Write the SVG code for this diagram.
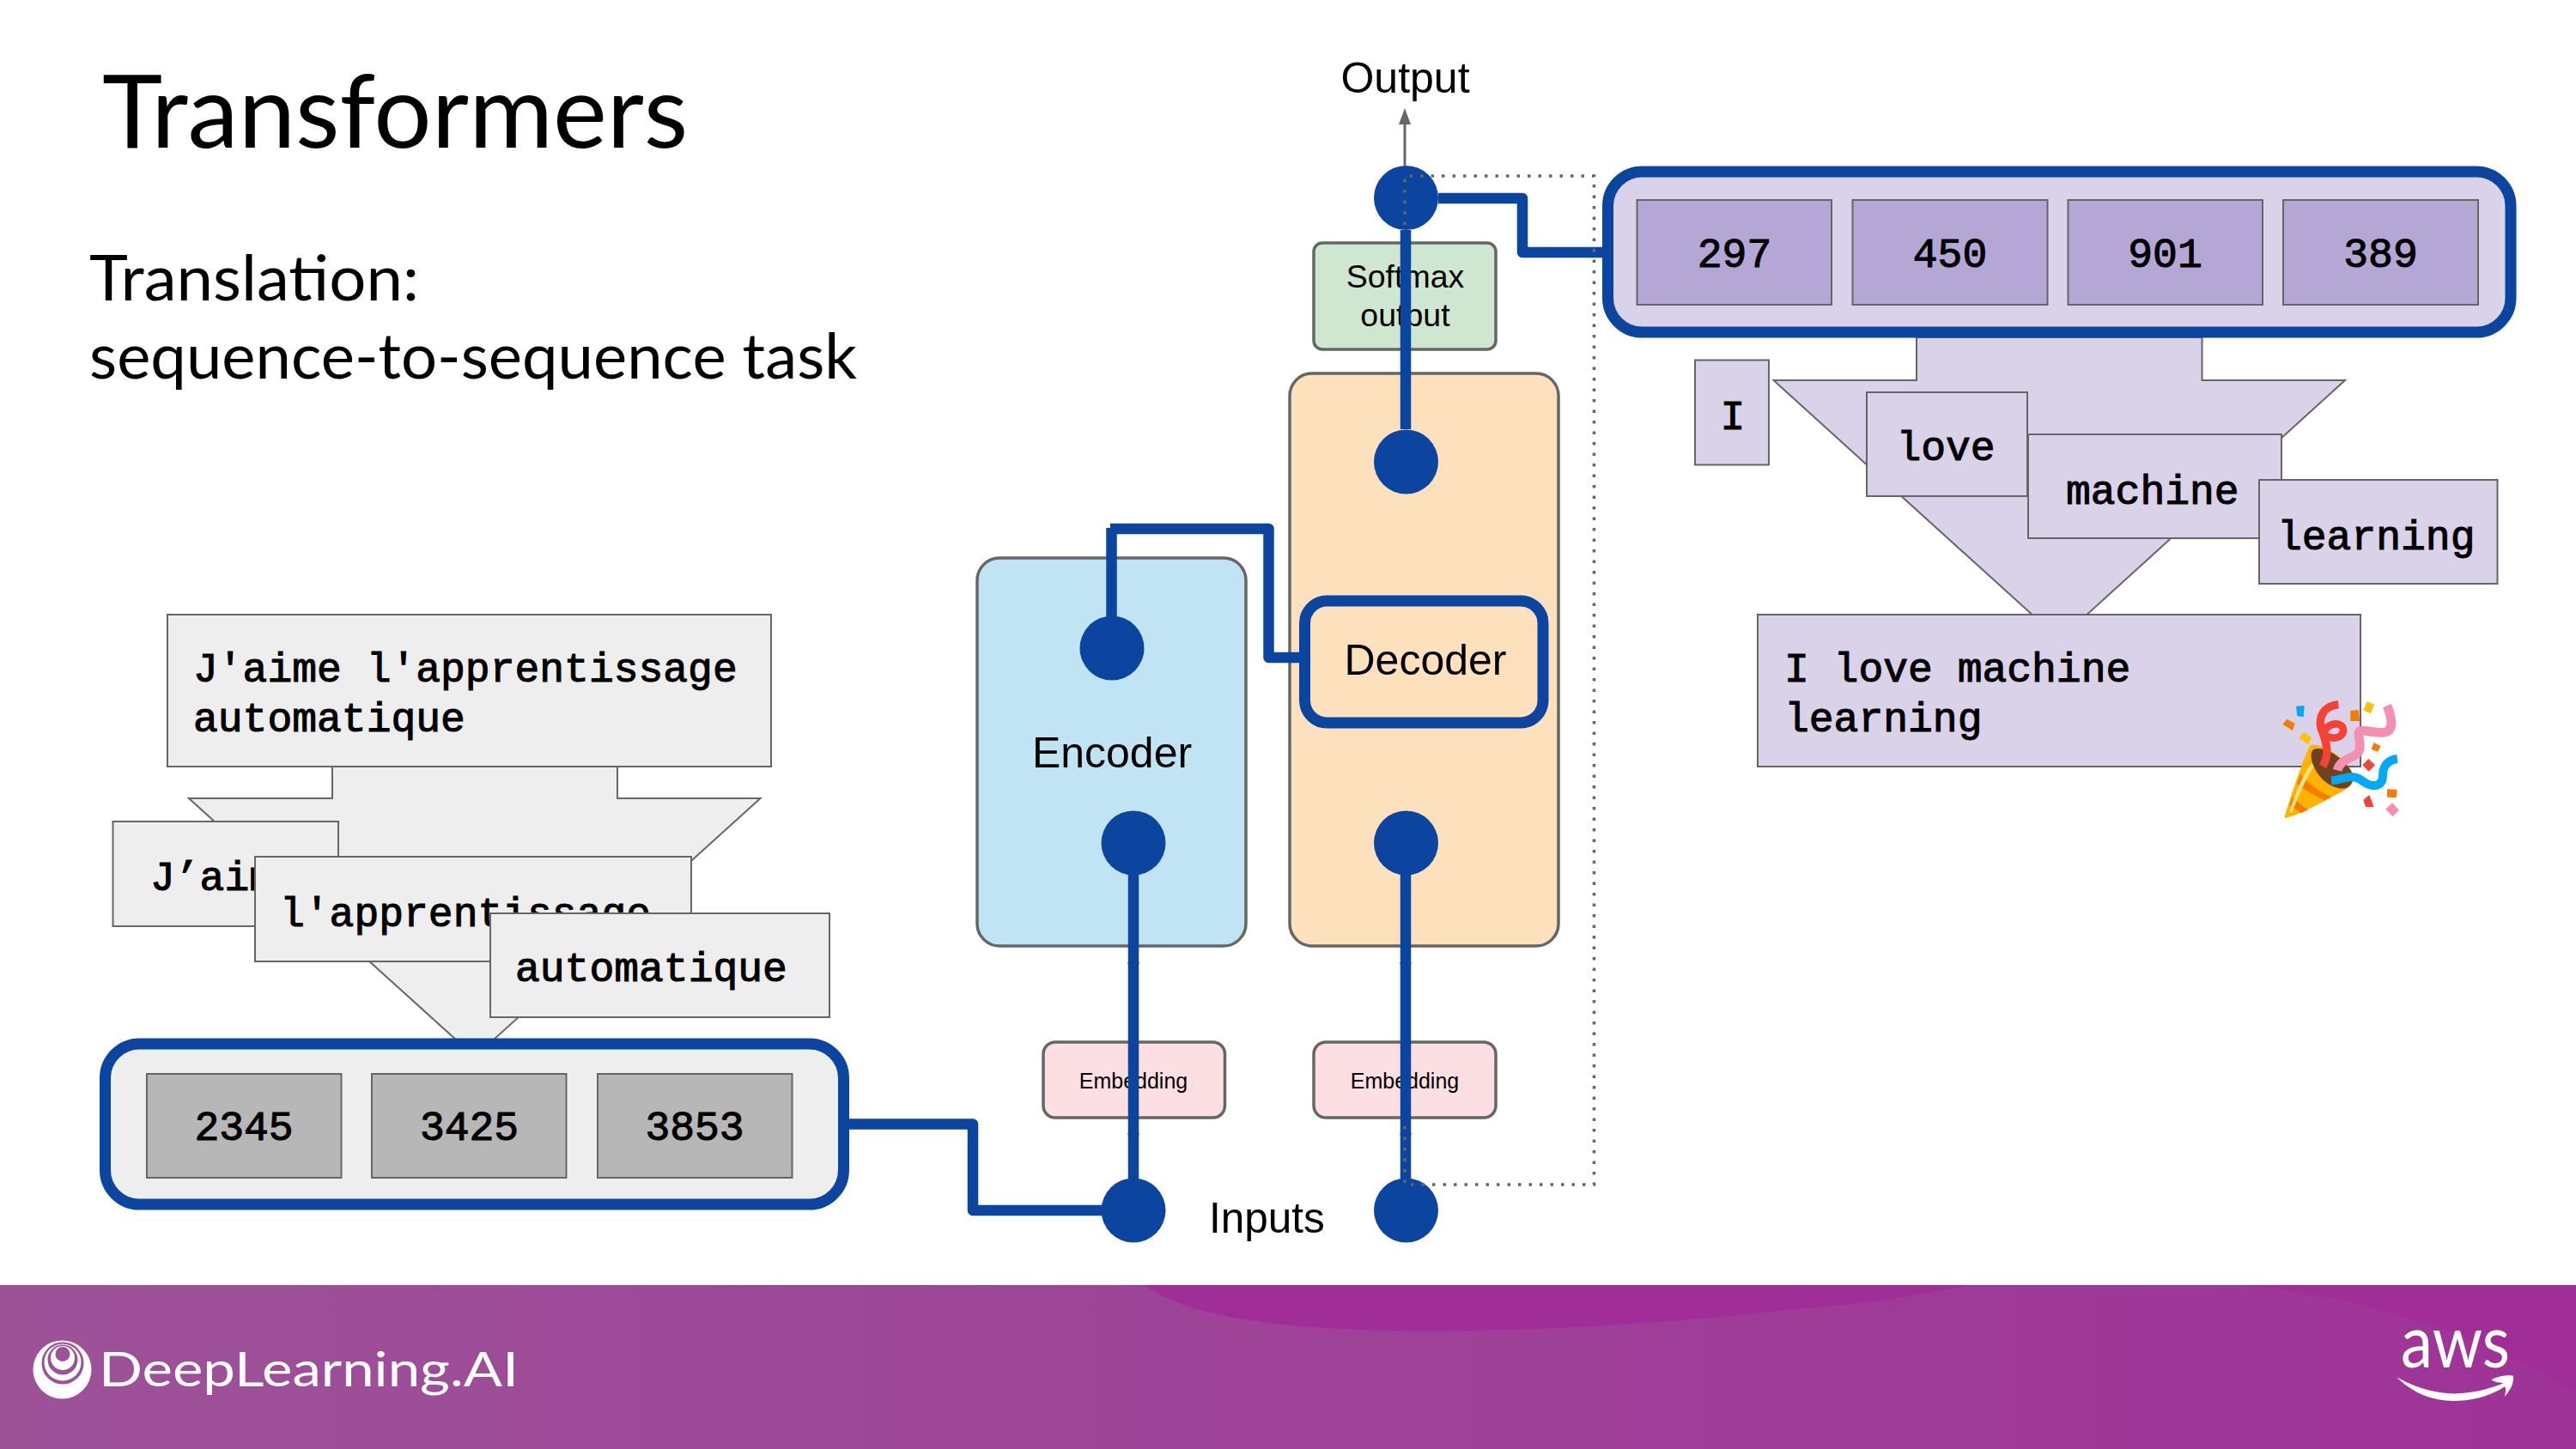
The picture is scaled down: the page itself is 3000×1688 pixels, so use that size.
<svg xmlns="http://www.w3.org/2000/svg" width="3000" height="1688" viewBox="0 0 3000 1688">
<style>
.slab{stroke:#666;stroke-width:2}
.grey{fill:#eee}
.lav{fill:#d9d2e9}
.cellg{fill:#b7b7b7}
.cellp{fill:#b4a7d6}
.mono{font-family:"Liberation Mono",monospace;font-size:48px;font-weight:400;fill:#000;stroke:#000;stroke-width:1.1}
.mid{text-anchor:middle}
.sans{font-family:"Liberation Sans",Arial,sans-serif;fill:#000}
.lato{font-family:Lato,"Liberation Sans",sans-serif;fill:#000}
.panel{stroke:#666;stroke-width:3.5}
.port{fill:#0b45a0}
.group{stroke:#0b45a0;stroke-width:13;fill:none}
.wire{stroke:#0b45a0;stroke-width:12.5;fill:none;stroke-linejoin:round}
.thin{stroke:#666;stroke-width:3;fill:none}
.head{fill:#666}
.dots{stroke:#666;stroke-width:3.5;fill:none;stroke-dasharray:3.5 9}
.rib{fill:none;stroke-linecap:butt;stroke-linejoin:round}
</style>
<defs>
<linearGradient id="band" x1="0" x2="1" y1="0" y2="0">
<stop offset="0" stop-color="#9d5298"/>
<stop offset="1" stop-color="#9f3398"/>
</linearGradient>
</defs>
<rect width="3000" height="1688" fill="#fff"/>

<!-- footer band -->
<g id="footer">
<rect x="0" y="1497" width="3000" height="191" fill="url(#band)"/>
<path d="M1332 1497C1400 1545 1550 1552 1705 1550C1890 1548 2040 1530 2176 1517C2230 1510 2270 1500 2302 1497Z" fill="#a02d98"/>
<path d="M2612 1497C2760 1510 2900 1560 3000 1622V1497Z" fill="#a02d98"/>
<g id="logo-mark">
<circle cx="72.500" cy="1595.500" r="34" fill="#fff"/>
<circle cx="73" cy="1588" r="24.500" fill="#9d5298"/>
<circle cx="73" cy="1587" r="21.500" fill="#fff"/>
<circle cx="73" cy="1584" r="17.500" fill="#9d5298"/>
<circle cx="73" cy="1582" r="14" fill="#fff"/>
<circle cx="73" cy="1577.500" r="8.500" fill="#9d5298"/>
</g>
<text x="115" y="1615" font-family="Lato,sans-serif" font-size="57" fill="#fff" textLength="489" lengthAdjust="spacingAndGlyphs">DeepLearning.AI</text>
<text x="2796" y="1593" font-family="Lato,sans-serif" font-size="86" fill="#fff" textLength="127" lengthAdjust="spacingAndGlyphs">aws</text>
<path transform="translate(2600 1480) scale(.3333)" fill="#fff" d="M573 372C650 418 730 432 790 430C840 428 895 415 948 394C925 392 912 388 904 382C930 368 960 364 981 368C984 395 970 422 950 441C955 425 956 415 952 406C890 445 830 456 770 456C695 456 625 425 573 372Z"/>
</g>

<!-- heading -->
<text id="title" class="lato" x="119" y="172" font-size="119">Transformers</text>
<g id="subtitle">
<text class="lato" x="104" y="350" font-size="74" textLength="384" lengthAdjust="spacingAndGlyphs">Translation:</text>
<text class="lato" x="104" y="441" font-size="74" textLength="894" lengthAdjust="spacingAndGlyphs">sequence-to-sequence task</text>
</g>

<!-- French side -->
<g id="src-arrow"><polygon class="slab grey" points="387,893 719,893 719,930 885.500,930 553,1231 220,930 387,930"/></g>
<g id="src-sentence"><rect class="slab grey" x="195" y="716" width="703" height="177"/>
<text class="mono" x="225" y="794">J'aime l'apprentissage</text><text class="mono" x="225" y="852">automatique</text></g>
<g id="src-word-1"><rect class="slab grey" x="131.500" y="957" width="262.500" height="122"/><text class="mono" x="175" y="1037">J’aime</text></g>
<g id="src-word-2"><rect class="slab grey" x="297" y="998" width="508" height="122"/><text class="mono" x="326" y="1079">l'apprentissage</text></g>
<g id="src-word-3"><rect class="slab grey" x="571" y="1064" width="395" height="121"/><text class="mono" x="600" y="1143">automatique</text></g>
<g id="src-tokens"><rect class="group grey" style="fill:#eee" x="122.500" y="1216" width="860" height="187" rx="40"/>
<rect class="slab cellg" x="171" y="1251" width="226.500" height="121"/><text class="mono mid" x="284" y="1328">2345</text>
<rect class="slab cellg" x="433" y="1251" width="226.500" height="121"/><text class="mono mid" x="546.500" y="1328">3425</text>
<rect class="slab cellg" x="696" y="1251" width="226.500" height="121"/><text class="mono mid" x="809" y="1328">3853</text></g>

<!-- model blocks -->
<g id="encoder"><rect class="panel" fill="#c1e4f5" x="1138" y="650" width="313" height="452" rx="26"/>
<text class="sans mid" x="1295" y="894" font-size="50">Encoder</text></g>
<g id="decoder"><rect class="panel" fill="#fde1bc" x="1502" y="435" width="313" height="667" rx="26"/></g>
<g id="decoder-attn"><rect class="group" x="1519.500" y="700" width="277.500" height="142" rx="26"/>
<text class="sans mid" x="1660" y="786" font-size="50">Decoder</text></g>
<g id="softmax"><rect class="panel" fill="#cfe6d0" x="1530" y="283" width="212" height="124" rx="10"/>
<text class="sans mid" x="1636.500" y="335" font-size="37.500">Softmax</text><text class="sans mid" x="1636.500" y="380" font-size="37.500">output</text></g>
<g id="embed-src"><rect class="panel" fill="#fcdfe2" x="1215" y="1214" width="211.500" height="88" rx="14"/>
<text class="sans mid" x="1320" y="1268" font-size="25">Embedding</text></g>
<g id="embed-tgt"><rect class="panel" fill="#fcdfe2" x="1530" y="1214" width="212" height="88" rx="14"/>
<text class="sans mid" x="1636" y="1268" font-size="25">Embedding</text></g>
<text id="label-output" class="sans mid" x="1636.500" y="108" font-size="50">Output</text>
<text id="label-inputs" class="sans" x="1408" y="1436" font-size="49.500">Inputs</text>

<!-- connection points -->
<g id="port-output"><circle class="port" cx="1637.500" cy="230.500" r="37.500"/></g>
<g id="port-dec-out"><circle class="port" cx="1637.500" cy="538" r="37.500"/></g>
<g id="port-enc-out"><circle class="port" cx="1295" cy="755" r="37.500"/></g>
<g id="port-enc-in"><circle class="port" cx="1320" cy="982" r="37.500"/></g>
<g id="port-dec-in"><circle class="port" cx="1637.500" cy="982" r="37.500"/></g>
<g id="port-src"><circle class="port" cx="1320" cy="1410" r="37.500"/></g>
<g id="port-tgt"><circle class="port" cx="1637.500" cy="1410" r="37.500"/></g>

<!-- English side -->
<g id="tgt-arrow"><polygon class="slab lav" points="2232,393 2564.500,393 2564.500,443 2731,443 2398.500,745 2065.500,443 2232,443"/></g>
<g id="tgt-tokens"><rect class="group" style="fill:#d9d2e9" x="1872.500" y="200" width="1051.500" height="187" rx="40"/>
<rect class="slab cellp" x="1906.500" y="233" width="226.500" height="122"/><text class="mono mid" x="2020" y="311">297</text>
<rect class="slab cellp" x="2157.500" y="233" width="227" height="122"/><text class="mono mid" x="2271" y="311">450</text>
<rect class="slab cellp" x="2408.500" y="233" width="226.500" height="122"/><text class="mono mid" x="2521.500" y="311">901</text>
<rect class="slab cellp" x="2659" y="233" width="227" height="122"/><text class="mono mid" x="2772.500" y="311">389</text></g>
<g id="tgt-word-1"><rect class="slab lav" x="1974" y="419.500" width="86" height="122"/><text class="mono mid" x="2018" y="500">I</text></g>
<g id="tgt-word-2"><rect class="slab lav" x="2174" y="457" width="187" height="121"/><text class="mono mid" x="2266" y="536">love</text></g>
<g id="tgt-word-3"><rect class="slab lav" x="2362" y="506" width="295" height="121"/><text class="mono" x="2406" y="587">machine</text></g>
<g id="tgt-word-4"><rect class="slab lav" x="2631" y="559" width="277.500" height="121"/><text class="mono" x="2652" y="640">learning</text></g>
<g id="tgt-sentence"><rect class="slab lav" x="2047" y="716" width="702" height="177"/>
<text class="mono" x="2078" y="794">I love machine</text><text class="mono" x="2078" y="852">learning</text></g>

<!-- party popper -->
<g id="popper" transform="translate(2620 790) scale(.3333)">
<path d="M122 488C125 470 190 270 212 235C250 225 330 270 368 345C360 372 345 385 325 395C270 425 150 490 122 488Z" fill="#ffb300"/>
<path d="M178 335C205 370 240 395 285 415L262 427C220 408 185 385 165 370ZM150 415C170 435 185 450 205 460L180 472C165 460 150 450 138 445Z" fill="#f57c00"/>
<path d="M140 465C160 400 190 330 215 300L226 306C200 345 170 410 148 470Z" fill="#ffe082"/>
<path d="M222 250C250 235 310 265 345 310C370 345 362 375 335 385C300 392 255 365 232 325C215 295 208 265 222 250Z" fill="#70401f"/>
<path class="rib" stroke="#f44336" stroke-width="28" d="M255 308C280 265 268 230 258 198C235 155 245 100 310 92"/>
<path class="rib" stroke="#f44336" stroke-width="26" d="M258 195C270 150 330 150 327 185C322 218 270 212 258 195"/>
<path class="rib" stroke="#f48fb1" stroke-width="32" d="M306 322C320 270 385 285 385 240C385 190 365 180 410 185C450 190 498 205 495 150C492 130 487 112 480 96"/>
<path class="rib" stroke="#03a9f4" stroke-width="30" d="M285 358C330 355 360 330 395 360C430 385 465 380 465 340C465 300 490 285 516 282"/>
<polygon points="162,98 191,96 188,136 166,132" fill="#03a9f4"/>
<polygon points="130,143 158,158 150,183 115,162" fill="#f57c00"/>
<polygon points="188,188 217,208 205,232 172,210" fill="#ffc107"/>
<polygon points="352,113 380,112 384,150 352,150" fill="#f57c00"/>
<polygon points="410,82 436,92 422,124 397,112" fill="#ffc107"/>
<polygon points="434,225 458,238 447,258 425,248" fill="#f57c00"/>
<polygon points="415,282 438,304 416,326 394,304" fill="#f44336"/>
<polygon points="480,388 515,390 512,418 480,416" fill="#f57c00"/>
<polygon points="418,408 434,450 405,450 397,426" fill="#f44336"/>
<polygon points="498,436 522,462 500,484 475,458" fill="#f48fb1"/>
</g>

<!-- connectors -->
<g id="connectors">
<path class="thin" d="M1636 193V145"/><polygon class="head" points="1636,126 1629,145 1643,145"/>
<polygon class="head" points="1320,1104 1313,1123 1327,1123"/><polygon class="head" points="1637,1104 1630,1123 1644,1123"/>
<polygon class="head" points="1320,1303 1313,1322 1327,1322"/><polygon class="head" points="1637,1303 1630,1322 1644,1322"/>
<path class="wire" d="M1637 268V500"/>
<path class="wire" d="M1320 1019V1373"/>
<path class="wire" d="M1637 1019V1373"/>
<path class="wire" d="M1675 231H1773V294H1867"/>
<path class="wire" d="M1294.500 718V615"/>
<path class="wire" d="M1293 616H1477.500V766H1514"/>
<path class="wire" d="M989 1309.500H1133V1410H1283"/>
<path class="dots" d="M1636 262V205H1856.500V1380H1636V1308"/>
</g>
</svg>
